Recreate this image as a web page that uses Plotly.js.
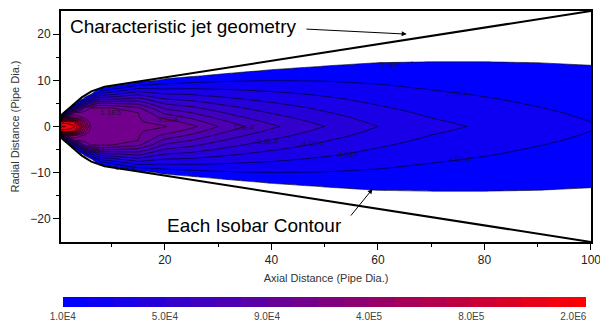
<!DOCTYPE html>
<html><head><meta charset="utf-8">
<script src="https://cdn.plot.ly/plotly-3.0.1.min.js"></script>
<style>html,body{margin:0;padding:0;background:#fff}#chart{width:600px;height:320px}</style>
</head><body><div id="chart"></div>
<script>
// Axial stations (pipe diameters) and radial half-grid (pipe diameters)
const X_STATIONS = [0.5, 1, 2, 3, 4, 5, 6, 8, 10, 15, 20, 25, 30, 35, 40, 50, 60, 70, 80, 90, 100];
const Y_HALF = [0, 1, 2, 3, 4, 5, 6, 7, 8, 9, 10, 11, 12, 13, 14, 15, 16];
// Pressure (kPa) at each axial station, from the axis (y=0) outwards (y=0..16)
const PRESSURE_KPA = [
  [2200,1250,20,1,1,1,1,1,1,1,1,1,1,1,1,1,1],
  [2100,1300,200,11,1,1,1,1,1,1,1,1,1,1,1,1,1],
  [1900,1200,300,60,1,1,1,1,1,1,1,1,1,1,1,1,1],
  [1600,1000,300,110,45,1,1,1,1,1,1,1,1,1,1,1,1],
  [900,600,220,115,70,25,1,1,1,1,1,1,1,1,1,1,1],
  [500,350,160,115,95,55,15,1,1,1,1,1,1,1,1,1,1],
  [200,170,130,112,100,70,36,8,1,1,1,1,1,1,1,1,1],
  [125,122,117,112,104,82,57,34,14,1,1,1,1,1,1,1,1],
  [118,117,114,110,102,80,58,38,20,5,1,1,1,1,1,1,1],
  [112,110,106,100,92,77.4,62.7,48.1,33.4,18.8,4.2,1,1,1,1,1,1],
  [105,95.8,86.6,77.3,68.1,58.9,49.7,40.5,31.2,22,12.8,3.6,1,1,1,1,1],
  [93,85.3,77.6,69.9,62.3,54.6,46.9,39.2,31.5,23.8,16.1,8.5,1,1,1,1,1],
  [80,73.8,67.6,61.4,55.2,49,42.8,36.6,30.4,24.3,18.1,11.9,5.7,1,1,1,1],
  [70,64.9,59.8,54.7,49.7,44.6,39.5,34.4,29.3,24.2,19.2,14.1,9,3.9,1,1,1],
  [62,57.8,53.5,49.3,45.1,40.9,36.6,32.4,28.2,23.9,19.7,15.5,11.3,7,2.8,1,1],
  [50,46.9,43.9,40.8,37.8,34.7,31.7,28.6,25.6,22.5,19.5,16.4,13.4,10.3,7.3,4.2,1.2],
  [40,37.8,35.7,33.5,31.3,29.1,27,24.8,22.6,20.4,18.3,16.1,13.9,11.7,9.6,7.4,5.2],
  [33,31.4,29.7,28.1,26.4,24.8,23.1,21.5,19.9,18.2,16.6,14.9,13.3,11.6,10,8.4,6.7],
  [28.5,27.2,25.9,24.5,23.2,21.9,20.6,19.3,17.9,16.6,15.3,14,12.6,11.3,10,8.7,7.4],
  [24.5,23.5,22.4,21.4,20.3,19.2,18.2,17.1,16.1,15,14,12.9,11.9,10.8,9.8,8.7,7.7],
  [20.8,20,19.2,18.4,17.6,16.7,15.9,15.1,14.3,13.5,12.7,11.9,11.1,10.2,9.4,8.6,7.8]
];
// Isobar levels (kPa) used by the colour scale (1.0E4 Pa ... 2.0E6 Pa)
const ISOBAR_LEVELS_KPA = [10,20,30,40,50,60,70,80,90,100,200,300,400,500,600,700,800,900,1000,1500,2000,3000];
const CB_TICK_INDEX = [0, 4, 8, 12, 16, 20];
const CB_TICK_LABELS = ['1.0E4', '5.0E4', '9.0E4', '4.0E5', '8.0E5', '2.0E6'];
// Characteristic jet geometry (upper edge; lower edge is its mirror)
const JET_X = [0.5, 2.5, 4.4, 6.2, 8.7, 100];
const JET_R = [2.4, 4.5, 6.3, 7.6, 8.6, 25];
// Contour label texts
const ISO_LABELS = ['1.0E4','2.0E4','2.0E4','3.0E4','4.0E4','5.0E4','7.0E4','9.0E4','1.1E5','5.0E4','1.0E4'];

function levelIndex(p) {
  const L = ISOBAR_LEVELS_KPA;
  if (p <= L[0]) return (p - L[0]) / (L[1] - L[0]);
  for (let i = 0; i < L.length - 1; i++) {
    if (p <= L[i + 1]) return i + (p - L[i]) / (L[i + 1] - L[i]);
  }
  return L.length - 1;
}

const yFull = [];
const rowIdx = [];
for (let j = Y_HALF.length - 1; j >= 1; j--) { yFull.push(-Y_HALF[j]); rowIdx.push(j); }
for (let j = 0; j < Y_HALF.length; j++) { yFull.push(Y_HALF[j]); rowIdx.push(j); }
const zIdx = rowIdx.map(j => X_STATIONS.map((_, i) => levelIndex(PRESSURE_KPA[i][j])));

const nBands = 21;
const FONT = '"Liberation Sans", Arial, sans-serif';

const contourFill = {
  type: 'contour', x: X_STATIONS, y: yFull, z: zIdx,
  autocontour: false,
  contours: {start: 0, end: 20, size: 1, coloring: 'fill', showlines: false},
  colorscale: [[0, '#ffffff'], [0.5 / nBands, '#ffffff'], [1 / nBands, 'rgb(0,0,255)'], [1, 'rgb(255,0,0)']],
  line: {width: 0, smoothing: 0},
  hoverinfo: 'skip',
  colorbar: {
    orientation: 'h', thickness: 10, thicknessmode: 'pixels',
    len: 535.5, lenmode: 'pixels', xpad: 0, ypad: 0,
    x: 0.485, xanchor: 'center', y: -0.238, yanchor: 'top',
    outlinewidth: 0, ticks: '', tickvals: CB_TICK_INDEX, ticktext: CB_TICK_LABELS,
    tickfont: {family: FONT, size: 10, color: '#444'}
  }
};
const contourLines = {
  type: 'contour', x: X_STATIONS, y: yFull, z: zIdx,
  autocontour: false, showscale: false,
  contours: {start: 0, end: 20, size: 1, coloring: 'none', showlines: true},
  line: {color: '#000', width: 0.6, smoothing: 0},
  hoverinfo: 'skip'
};
const jetTop = {type: 'scatter', mode: 'lines', x: JET_X, y: JET_R,
  line: {color: '#000', width: 2}, hoverinfo: 'skip', showlegend: false};
const jetBot = {type: 'scatter', mode: 'lines', x: JET_X, y: JET_R.map(v => -v),
  line: {color: '#000', width: 2}, hoverinfo: 'skip', showlegend: false};

const labelPos = [[62.4,13.4],[74.8,7.1],[75.3,-7.1],[54.4,-6.0],[47.8,-3.7],[39.3,-3.2],[34.8,-0.2],[20.4,1.5],[9.7,3.0],[6.7,-5.2],[12.7,-8.8]];
const annotations = ISO_LABELS.map((t, i) => ({
  x: labelPos[i][0], y: labelPos[i][1], xref: 'x', yref: 'y', text: t, showarrow: false,
  font: {family: FONT, size: 8, color: 'rgba(20,20,20,0.8)'}
}));
annotations.push({
  x: 23.4, y: 21.7, xref: 'x', yref: 'y', text: 'Characteristic jet geometry', showarrow: false,
  font: {family: FONT, size: 19, color: '#000'}
});
annotations.push({
  x: 36.8, y: -21.5, xref: 'x', yref: 'y', text: 'Each Isobar Contour', showarrow: false,
  font: {family: FONT, size: 19, color: '#000'}
});
annotations.push({
  x: 65.4, y: 20.0, ax: 46.3, ay: 21.1, xref: 'x', yref: 'y', axref: 'x', ayref: 'y',
  text: '', showarrow: true, arrowhead: 2, arrowsize: 1, arrowwidth: 1, arrowcolor: '#000', standoff: 0
});
annotations.push({
  x: 59.0, y: -13.5, ax: 54.7, ay: -19.6, xref: 'x', yref: 'y', axref: 'x', ayref: 'y',
  text: '', showarrow: true, arrowhead: 2, arrowsize: 1, arrowwidth: 1, arrowcolor: '#000', standoff: 0
});

const layout = {
  width: 600, height: 320,
  margin: {l: 61, r: 9, t: 11, b: 78, autoexpand: false},
  paper_bgcolor: '#fff', plot_bgcolor: '#fff',
  showlegend: false,
  font: {family: FONT, color: '#222'},
  xaxis: {
    range: [0.5, 100.001], tickvals: [20, 40, 60, 80, 100], showgrid: false, zeroline: false,
    showline: true, linewidth: 2, linecolor: '#000', mirror: true,
    ticks: 'outside', ticklen: 6, tickwidth: 1, tickcolor: '#000',
    ticklabeloverflow: 'allow',
    minor: {tickvals: [10, 30, 50, 70, 90], ticks: 'outside', ticklen: 3, tickcolor: '#000', showgrid: false},
    tickfont: {family: FONT, size: 12, color: '#222'},
    title: {text: 'Axial Distance (Pipe Dia.)', font: {family: FONT, size: 11, color: '#333'}, standoff: 8}
  },
  yaxis: {
    range: [-25, 25], tickvals: [-20, -10, 0, 10, 20], showgrid: false, zeroline: false,
    showline: true, linewidth: 2, linecolor: '#000', mirror: true,
    ticks: 'outside', ticklen: 6, tickwidth: 1, tickcolor: '#000',
    minor: {tickvals: [-15, -5, 5, 15], ticks: 'outside', ticklen: 3, tickcolor: '#000', showgrid: false},
    tickfont: {family: FONT, size: 12, color: '#222'},
    title: {text: 'Radial Distance (Pipe Dia.)', font: {family: FONT, size: 11, color: '#333'}, standoff: 8}
  },
  annotations: annotations
};

Plotly.newPlot('chart', [contourFill, contourLines, jetTop, jetBot], layout, {displayModeBar: false, staticPlot: true});
</script>
</body></html>
